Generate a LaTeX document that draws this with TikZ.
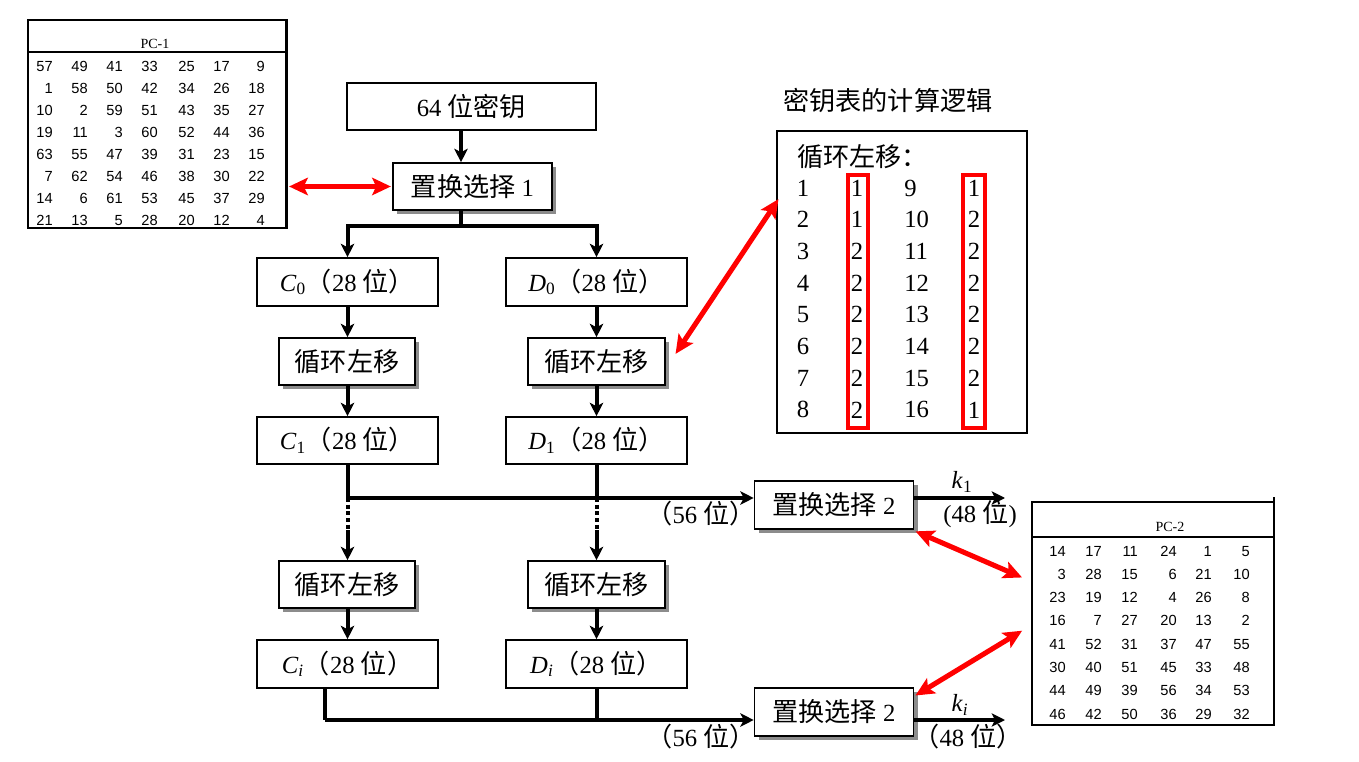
\documentclass[tikz,border=0pt]{standalone}
\usepackage{fontspec}
\setmainfont{Liberation Serif}
\newfontfamily\cjk{Noto Sans CJK SC}[Scale=1.06]
\newfontfamily\tabfont{Liberation Sans}
\usetikzlibrary{arrows.meta,shadows,calc}
\newcommand\zh[1]{{\cjk #1}}
\begin{document}
\begin{tikzpicture}[x=0.75pt,y=-0.75pt,
  box/.style={draw,line width=1.2pt,fill=white,inner sep=0pt,font=\fontsize{18.5}{20}\selectfont},
  sbox/.style={box,drop shadow={shadow xshift=3pt,shadow yshift=-3pt,fill=black!45,opacity=1}},
  flow/.style={line width=3pt},
  arr/.style={flow,-{Stealth[length=10pt,width=10pt,inset=2.5pt]}},
  redarr/.style={red,line width=3.8pt,shorten <=1pt,shorten >=1pt,{Stealth[length=14pt,width=13pt,inset=3pt]}-{Stealth[length=14pt,width=13pt,inset=3pt]}},
  lbl/.style={inner sep=0pt,font=\fontsize{18.5}{20}\selectfont},
  tnum/.style={inner sep=0pt,anchor=base east,font=\tabfont\fontsize{11}{12}\selectfont},
  tbox/.style={draw,line width=1.1pt,inner sep=0pt},
]
\useasboundingbox (0,0) rectangle (1359,762);
\fill[white] (0,0) rectangle (1359,762);

% ---------- PC-1 table ----------
\node[tbox,minimum width=194.25pt,minimum height=156pt] (pc1box) at (157.5,124) {};
\draw[line width=1.1pt] (28,52) -- (287,52);
\draw[line width=2.2pt] (286,20) -- (286,228);
\node[inner sep=0pt,font=\fontsize{10.5}{12}\selectfont] (pc1title) at (155,44) {PC-1};
\foreach \row [count=\r] in {{57,49,41,33,25,17,9},{1,58,50,42,34,26,18},{10,2,59,51,43,35,27},{19,11,3,60,52,44,36},{63,55,47,39,31,23,15},{7,62,54,46,38,30,22},{14,6,61,53,45,37,29},{21,13,5,28,20,12,4}}{
  \foreach \v [count=\c] in \row {
    \pgfmathsetmacro\xx{{53,88,123,158,195,230,265}[\c-1]}
    \node[tnum] (pa-\r-\c) at (\xx,{72+(\r-1)*21.9}) {\v};
  }
}

% ---------- main flow ----------
\node[box,minimum width=186.75pt,minimum height=35.25pt] (key64) at (471.5,106.5) {64 \zh{位密钥}};
\node[sbox,minimum width=119.25pt,minimum height=35.25pt] (pc1sel) at (472.5,186.5) {\zh{置换选择} 1};

\node[box,minimum width=135.75pt,minimum height=36pt] (C0) at (347.5,282) {\textit{C}\textsubscript{0}\zh{（}28 \zh{位）}};
\node[box,minimum width=135.75pt,minimum height=36pt] (D0) at (596.5,282) {\textit{D}\textsubscript{0}\zh{（}28 \zh{位）}};
\node[sbox,minimum width=102pt,minimum height=35.25pt] (rotL1) at (347,361.5) {\zh{循环左移}};
\node[sbox,minimum width=102.75pt,minimum height=35.25pt] (rotR1) at (596.5,361.5) {\zh{循环左移}};
\node[box,minimum width=135.75pt,minimum height=35.25pt] (C1) at (347.5,440.5) {\textit{C}\textsubscript{1}\zh{（}28 \zh{位）}};
\node[box,minimum width=135.75pt,minimum height=35.25pt] (D1) at (596.5,440.5) {\textit{D}\textsubscript{1}\zh{（}28 \zh{位）}};
\node[sbox,minimum width=102pt,minimum height=35.25pt] (rotL2) at (347,584.5) {\zh{循环左移}};
\node[sbox,minimum width=102.75pt,minimum height=35.25pt] (rotR2) at (596.5,584.5) {\zh{循环左移}};
\node[box,minimum width=135.75pt,minimum height=36pt] (Ci) at (347.5,664) {\textit{C}\textsubscript{\textit{i}}\zh{（}28 \zh{位）}};
\node[box,minimum width=135.75pt,minimum height=36pt] (Di) at (596.5,664) {\textit{D}\textsubscript{\textit{i}}\zh{（}28 \zh{位）}};
\node[sbox,minimum width=119.25pt,minimum height=36pt] (pc2a) at (834,505) {\zh{置换选择} 2};
\node[sbox,minimum width=119.25pt,minimum height=36pt] (pc2b) at (834,712) {\zh{置换选择} 2};

\coordinate (split) at (461,226);
\draw[arr] (key64.south -| split) -- (pc1sel.north -| split);
\draw[flow] (pc1sel.south -| split) -- (split);
\draw[arr] (split) -| (C0.north);
\draw[arr] (split) -| (D0.north);

\draw[arr] (C0.south) -- (C0.south |- rotL1.north);
\draw[arr] (D0.south) -- (D0.south |- rotR1.north);
\draw[arr] (rotL1.south -| C0.south) -- (C1.north);
\draw[arr] (rotR1.south -| D0.south) -- (D1.north);

\coordinate (j1) at (347.5,498);
\coordinate (j2) at (596.5,498);
\coordinate (d1) at (347.5,530);
\coordinate (d2) at (596.5,530);
\draw[flow] (C1.south) -- (j1);
\draw[flow] (D1.south) -- (j2);
\draw[arr] (j1) -- (j1 -| pc2a.west);
\draw[flow,dash pattern=on 3pt off 2pt] (j1) -- (d1);
\draw[flow,dash pattern=on 3pt off 2pt] (j2) -- (d2);
\draw[arr] (d1) -- (d1 |- rotL2.north);
\draw[arr] (d2) -- (d2 |- rotR2.north);
\draw[arr] (rotL2.south -| Ci.south) -- (Ci.north);
\draw[arr] (rotR2.south -| Di.south) -- (Di.north);

\coordinate (b1) at (325,720);
\coordinate (b2) at (596.5,720);
\draw[flow] (Ci.south -| b1) -- (b1);
\draw[flow] (Di.south) -- (b2);
\draw[arr] (b1) -- (b1 -| pc2b.west);

\coordinate (o1) at (1005,498);
\coordinate (o2) at (1005,720);
\draw[arr] (pc2a.east |- o1) -- (o1);
\draw[arr] (pc2b.east |- o2) -- (o2);

\node[lbl] (l56a) at (701,514) {\zh{（}56 \zh{位）}};
\node[lbl] (k1) at (962,482) {\textit{k}\textsubscript{1}};
\node[lbl] (l48a) at (980,514) {(48 \zh{位})};
\node[lbl] (l56b) at (701,737) {\zh{（}56 \zh{位）}};
\node[lbl] (ki) at (960,705) {\textit{k}\textsubscript{\textit{i}}};
\node[lbl] (l48b) at (968,737) {\zh{（}48 \zh{位）}};

% ---------- key schedule table ----------
\node[lbl,anchor=west] (kttitle) at (783,101) {\zh{密钥表的计算逻辑}};
\node[tbox,line width=1.2pt,minimum width=187.5pt,minimum height=226.5pt] (ktbox) at (902,282) {};
\node[lbl,anchor=west] (ktlabel) at (797,157) {\zh{循环左移：}};
\foreach \a/\b/\c/\d [count=\r] in {1/1/9/1,2/1/10/2,3/2/11/2,4/2/12/2,5/2/13/2,6/2/14/2,7/2/15/2,8/2/16/1}{
  \node[lbl] (ka-\r) at (803,{188+(\r-1)*31.7}) {\a};
  \node[lbl] (kb-\r) at (857,{188+(\r-1)*31.7}) {\b};
  \node[lbl,anchor=west] (kc-\r) at (904,{188+(\r-1)*31.7}) {\c};
  \node[lbl] (kd-\r) at (974,{188+(\r-1)*31.7}) {\d};
}
\draw[red,line width=3pt] (848,175) rectangle (868,428);
\draw[red,line width=3pt] (963,175) rectangle (985,428);

% ---------- PC-2 table ----------
\node[tbox,minimum width=181.5pt,minimum height=167.25pt] (pc2box) at (1153,613.5) {};
\draw[line width=1.1pt] (1032,537) -- (1274,537);
\draw[line width=2.2pt] (1274,497) -- (1274,725);
\node[inner sep=0pt,font=\fontsize{10.5}{12}\selectfont] (pc2title) at (1170,527) {PC-2};
\foreach \row [count=\r] in {{14,17,11,24,1,5},{3,28,15,6,21,10},{23,19,12,4,26,8},{16,7,27,20,13,2},{41,52,31,37,47,55},{30,40,51,45,33,48},{44,49,39,56,34,53},{46,42,50,36,29,32}}{
  \foreach \v [count=\c] in \row {
    \pgfmathsetmacro\xx{{1066,1102,1138,1177,1212,1250}[\c-1]}
    \node[tnum] (pb-\r-\c) at (\xx,{556+(\r-1)*23.3}) {\v};
  }
}

% ---------- red double arrows ----------
\draw[redarr] (pc1box.east |- pc1sel.west) -- (pc1sel.west);
\draw[redarr] ($(rotR1.east)+(9,-6.5)$) -- ($(ktbox.west)+(3,-84)$);
\draw[redarr] ($(pc2a.south east)+(0,1)$) -- ($(pc2box.west)+(-8,-35.5)$);
\draw[redarr] ($(pc2b.north east)+(0,9)$) -- ($(pc2box.west)+(-8,16.5)$);
\end{tikzpicture}
\end{document}
